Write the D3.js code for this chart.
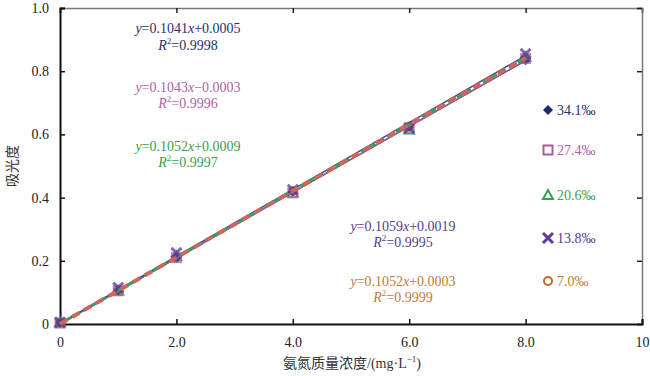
<!DOCTYPE html>
<html>
<head>
<meta charset="utf-8">
<script src="https://cdn.jsdelivr.net/npm/d3@7"></script>
<style>
body{margin:0;background:#fff;}
text{font-family:"Liberation Serif","Times New Roman",serif;}
</style>
</head>
<body>
<div id="wrapper"></div>
<script>
// Data
const concentrations = [0, 1, 2, 4, 6, 8];
const seriesNames = ["34.1‰", "27.4‰", "20.6‰", "13.8‰", "7.0‰"];
const absorbance = [
  [0.005, 0.105, 0.210, 0.420, 0.625, 0.835],
  [0.003, 0.105, 0.210, 0.415, 0.620, 0.840],
  [0.005, 0.105, 0.215, 0.415, 0.615, 0.845],
  [0.005, 0.115, 0.225, 0.425, 0.620, 0.855],
  [0.003, 0.107, 0.210, 0.420, 0.625, 0.840]
];
const slopes = [0.1041, 0.1043, 0.1052, 0.1059, 0.1052];
const intercepts = [0.0005, -0.0003, 0.0009, 0.0019, 0.0003];
const eqLabels = ["0.1041", "0.1043", "0.1052", "0.1059", "0.1052"];
const eqTails = ["+0.0005", "\u22120.0003", "+0.0009", "+0.0019", "+0.0003"];
const r2Labels = ["0.9998", "0.9996", "0.9997", "0.9995", "0.9999"];
const xTicks = [0, 2, 4, 6, 8, 10];
const yTicks = [0, 0.2, 0.4, 0.6, 0.8, 1.0];

// Styles
const colors = ["#1f2a68", "#a85c9e", "#2fa552", "#5e3a96", "#c4662a"];
const textColors = ["#27336b", "#b062a6", "#3aa04e", "#5a3d8e", "#c27a3e"];
const symbols = ["diamond", "square", "triangle", "cross", "circle"];
const eqPos = [[188, 28, 45], [188, 87, 103], [188, 146, 162], [403, 226, 242], [403, 281, 297]];
const legendY = [110, 150, 195, 238, 281];

// Dimension
const dimension = {width: 650, height: 376, margin: {top: 8, right: 8, bottom: 52, left: 60}};
const bw = 582, bh = 316;

const xScale = d3.scaleLinear().domain([0, 10]).range([0, bw]);
const yScale = d3.scaleLinear().domain([0, 1]).range([bh, 0]);

const wrapper = d3.select("#wrapper").append("svg")
  .attr("width", dimension.width).attr("height", dimension.height);
const bounded = wrapper.append("g")
  .attr("transform", `translate(${dimension.margin.left},${dimension.margin.top})`);

// top and right frame (grey)
bounded.append("g")
  .call(d3.axisTop(xScale).tickValues(xTicks).tickSize(-5).tickFormat(""))
  .call(g => g.select(".domain").attr("stroke", "#777").attr("stroke-width", 1.5))
  .call(g => g.selectAll(".tick line").attr("stroke", "#222").attr("stroke-width", 1.5));
bounded.append("g").attr("transform", `translate(${bw},0)`)
  .call(d3.axisRight(yScale).tickValues(yTicks).tickSize(-5).tickFormat(""))
  .call(g => g.select(".domain").attr("stroke", "#777").attr("stroke-width", 1.5))
  .call(g => g.selectAll(".tick line").attr("stroke", "#222").attr("stroke-width", 1.5));

// bottom and left axes
const fmtX = d => (d === 0 || d === 10) ? String(d) : d.toFixed(1);
const fmtY = d => d === 0 ? "0" : d.toFixed(1);
bounded.append("g").attr("transform", `translate(0,${bh})`)
  .call(d3.axisBottom(xScale).tickValues(xTicks).tickSize(-5).tickPadding(13).tickFormat(fmtX))
  .call(g => g.select(".domain").attr("stroke", "#111").attr("stroke-width", 2))
  .call(g => g.selectAll(".tick line").attr("stroke", "#111").attr("stroke-width", 1.5))
  .call(g => g.selectAll("text").attr("font-size", 14).attr("fill", "#222")
    .style("font-family", "'Liberation Serif',serif"));
bounded.append("g")
  .call(d3.axisLeft(yScale).tickValues(yTicks).tickSize(-5).tickPadding(11).tickFormat(fmtY))
  .call(g => g.select(".domain").attr("stroke", "#111").attr("stroke-width", 2))
  .call(g => g.selectAll(".tick line").attr("stroke", "#111").attr("stroke-width", 1.5))
  .call(g => g.selectAll("text").attr("font-size", 14).attr("fill", "#222")
    .style("font-family", "'Liberation Serif',serif"));

// axis titles
wrapper.append("text").attr("x", 352).attr("y", 368).attr("text-anchor", "middle")
  .attr("font-size", 14).attr("fill", "#333")
  .style("font-family", "'Liberation Serif','Noto Sans CJK SC',serif")
  .html('氨氮质量浓度/(mg·L<tspan dy="-6" font-size="9">\u22121</tspan><tspan dy="6">)</tspan>');
wrapper.append("text").attr("transform", "translate(17,166) rotate(-90)")
  .attr("text-anchor", "middle").attr("font-size", 14).attr("fill", "#333")
  .style("font-family", "'Noto Sans CJK SC',serif")
  .text("吸光度");

// markers
function drawMarker(g, type, x, y, color) {
  if (type === "diamond") {
    g.append("path").attr("d", `M${x},${y - 5}L${x + 5},${y}L${x},${y + 5}L${x - 5},${y}Z`).attr("fill", color);
  } else if (type === "square") {
    g.append("rect").attr("x", x - 4.5).attr("y", y - 4.5).attr("width", 9).attr("height", 9)
      .attr("fill", "none").attr("stroke", color).attr("stroke-width", 2);
  } else if (type === "triangle") {
    g.append("path").attr("d", `M${x},${y - 5}L${x + 5},${y + 4}L${x - 5},${y + 4}Z`)
      .attr("fill", "none").attr("stroke", color).attr("stroke-width", 2);
  } else if (type === "cross") {
    g.append("path").attr("d", `M${x - 5},${y - 5}L${x + 5},${y + 5}M${x + 5},${y - 5}L${x - 5},${y + 5}`)
      .attr("stroke", color).attr("stroke-width", 3);
  } else {
    g.append("circle").attr("cx", x).attr("cy", y).attr("r", 4)
      .attr("fill", "none").attr("stroke", color).attr("stroke-width", 2);
  }
}
[4, 2, 0, 1, 3].forEach(i => {
  const g = bounded.append("g").attr("opacity", 0.75);
  concentrations.forEach((c, j) => drawMarker(g, symbols[i], xScale(c), yScale(absorbance[i][j]), colors[i]));
});

// trend lines
const lineColors = ["#1f2a68", "#a85c9e", "#2fa552", "#5e3a96", "#d0665a"];
const lineWidths = [1.5, 1.5, 3, 1.5, 4];
const lineDash = [null, null, "6,4", null, "8,6"];
[0, 1, 3, 2, 4].forEach(i => {
  const x0 = 0, x1 = 8;
  bounded.append("line")
    .attr("x1", xScale(x0)).attr("y1", yScale(slopes[i] * x0 + intercepts[i]))
    .attr("x2", xScale(x1)).attr("y2", yScale(slopes[i] * x1 + intercepts[i]))
    .attr("stroke", lineColors[i])
    .attr("stroke-width", lineWidths[i])
    .attr("stroke-dasharray", lineDash[i])
    .attr("stroke-dashoffset", i === 2 ? 3 : 0)
    .attr("stroke-linecap", "butt");
});

// legend
seriesNames.forEach((name, i) => {
  const g = wrapper.append("g");
  drawMarker(g, symbols[i], 548, legendY[i], colors[i]);
  g.append("text").attr("x", 557).attr("y", legendY[i] + 5).attr("font-size", 14)
    .attr("fill", textColors[i]).text(name);
});

// equations
eqLabels.forEach((s, i) => {
  const [cx, y1, y2] = eqPos[i];
  wrapper.append("text").attr("x", cx).attr("y", y1 + 5).attr("text-anchor", "middle")
    .attr("font-size", 14).attr("fill", textColors[i])
    .html(`<tspan font-style="italic">y</tspan>=${s}<tspan font-style="italic">x</tspan>${eqTails[i]}`);
  wrapper.append("text").attr("x", cx).attr("y", y2 + 5).attr("text-anchor", "middle")
    .attr("font-size", 14).attr("fill", textColors[i])
    .html(`<tspan font-style="italic">R</tspan><tspan dy="-6" font-size="9">2</tspan><tspan dy="6">=${r2Labels[i]}</tspan>`);
});
</script>
</body>
</html>
